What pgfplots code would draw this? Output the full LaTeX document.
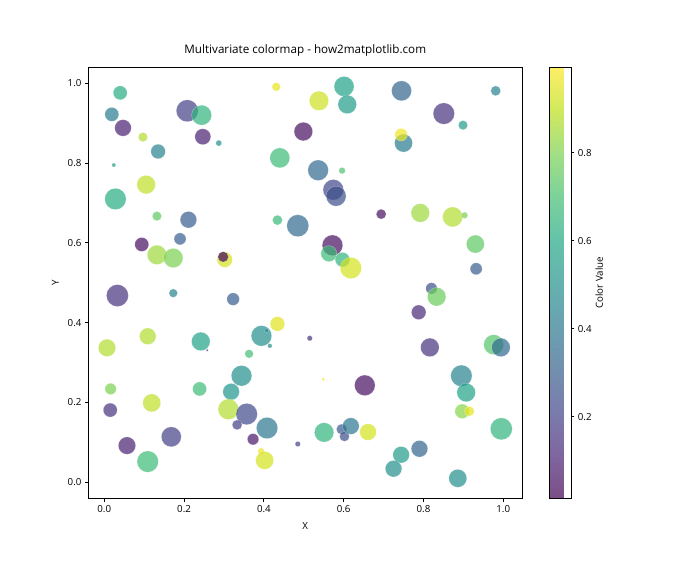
\documentclass[border=0pt]{standalone}
\usepackage{fontspec}
\setmainfont{Open Sans}
\usepackage{pgfplots}
\pgfplotsset{compat=1.18}

% 1 px of the reference = 1.0286pt
\pgfplotstableread{
x y c r
0.040 0.976 0.62 7
0.019 0.922 0.42 7
0.047 0.888 0.10 8.3
0.097 0.865 0.88 4.7
0.135 0.829 0.45 7.3
0.024 0.795 0.55 2
0.105 0.746 0.90 9.3
0.028 0.710 0.62 10.7
0.208 0.931 0.20 11
0.244 0.920 0.65 10
0.247 0.866 0.10 8
0.287 0.850 0.50 3
0.132 0.667 0.75 4.7
0.211 0.658 0.30 8.3
0.431 0.991 0.96 4.3
0.538 0.956 0.92 9.7
0.601 0.992 0.58 10
0.609 0.947 0.55 9.3
0.499 0.879 0.05 9.3
0.440 0.813 0.68 10
0.536 0.782 0.35 10.3
0.596 0.781 0.72 3.3
0.574 0.733 0.22 10.3
0.581 0.717 0.25 10
0.694 0.672 0.05 5
0.745 0.981 0.33 10
0.981 0.981 0.45 5
0.851 0.924 0.15 10.7
0.899 0.895 0.55 4.7
0.750 0.850 0.42 9
0.744 0.871 0.97 6.3
0.792 0.675 0.85 9.3
0.873 0.665 0.88 10
0.903 0.669 0.80 3.3
0.930 0.597 0.75 9
0.932 0.535 0.30 6
0.820 0.486 0.25 5.7
0.833 0.465 0.77 9.3
0.788 0.426 0.12 7.3
0.816 0.338 0.15 9.3
0.976 0.345 0.73 10
0.994 0.338 0.35 9.3
0.094 0.596 0.05 7
0.190 0.610 0.30 6
0.132 0.570 0.85 9.7
0.173 0.562 0.80 9.7
0.302 0.558 0.93 7.7
0.298 0.565 0.02 5.3
0.033 0.468 0.15 11
0.173 0.474 0.45 4.3
0.323 0.459 0.30 6.3
0.109 0.366 0.88 8.3
0.007 0.337 0.88 8.7
0.242 0.353 0.58 9.3
0.258 0.331 0.15 1.3
0.434 0.657 0.67 5
0.485 0.643 0.35 11
0.572 0.594 0.05 10.3
0.563 0.573 0.68 8
0.597 0.558 0.65 7.3
0.618 0.537 0.93 10.7
0.434 0.397 0.95 7.3
0.394 0.367 0.50 10.3
0.407 0.380 0.47 2
0.415 0.342 0.50 2.3
0.515 0.361 0.15 2.7
0.363 0.322 0.70 4.3
0.016 0.234 0.80 5.7
0.015 0.181 0.15 7
0.119 0.199 0.90 9
0.239 0.234 0.68 7
0.057 0.092 0.10 8.7
0.168 0.114 0.20 10
0.109 0.052 0.68 10.7
0.318 0.227 0.52 8.3
0.344 0.267 0.50 10.3
0.311 0.183 0.88 10.3
0.357 0.171 0.23 10.7
0.333 0.144 0.20 5
0.373 0.108 0.07 5.7
0.408 0.136 0.40 10.7
0.393 0.078 0.97 3.3
0.402 0.055 0.93 9
0.549 0.258 0.97 1.7
0.653 0.243 0.05 10.3
0.485 0.096 0.20 2.7
0.551 0.125 0.65 9.7
0.595 0.133 0.28 5.3
0.602 0.115 0.25 5
0.618 0.141 0.40 8.3
0.661 0.126 0.93 8.3
0.895 0.267 0.45 10.7
0.907 0.225 0.58 9.3
0.897 0.178 0.82 7.3
0.915 0.178 0.96 5
0.995 0.134 0.65 11
0.790 0.084 0.33 8.3
0.744 0.069 0.55 8.3
0.725 0.034 0.50 8.3
0.886 0.010 0.50 9
}\pts

\begin{document}
\begin{tikzpicture}
\useasboundingbox (-90.8pt,-63.5pt) rectangle (629.2pt,512.5pt);
\begin{axis}[
  scale only axis,
  width=446.4pt, height=443.3pt,
  xmin=-0.04, xmax=1.0476, ymin=-0.04, ymax=1.04,
  xtick={0,0.2,...,1.0}, ytick={0,0.2,...,1.0},
  /pgf/number format/fixed, /pgf/number format/fixed zerofill,
  /pgf/number format/precision=1, /pgf/number format/assume math mode=true,
  tick align=outside, major tick length=3.5pt,
  xtick pos=left, ytick pos=left,
  tick style={black, line width=0.8pt},
  axis line style={line width=0.8pt},
  ticklabel style={font=\fontsize{10}{12}\selectfont},
  title={Multivariate colormap - how2matplotlib.com},
  title style={at={(axis description cs:0.5,1.0246)}, anchor=center, font=\fontsize{12}{14}\selectfont},
  xlabel={X}, ylabel={Y},
  every axis x label/.style={at={(axis description cs:0.5,-0.065)}, anchor=center, font=\fontsize{10}{12}\selectfont},
  every axis y label/.style={at={(axis description cs:-0.076,0.5)}, anchor=center, rotate=90, font=\fontsize{10}{12}\selectfont},
  colormap/viridis,
  point meta min=0.015, point meta max=0.994,
  colorbar,
  colorbar shift/.style={/tikz/xshift=27.8pt},
  colorbar style={
    width=22pt,
    colormap={fadedviridis}{rgb255=(124,77,135) rgb255=(127,102,158) rgb255=(122,124,171)
      rgb255=(114,143,175) rgb255=(106,161,176) rgb255=(100,178,175) rgb255=(100,194,169)
      rgb255=(124,210,155) rgb255=(162,223,133) rgb255=(209,233,93) rgb255=(254,238,102)},
    ytick={0.2,0.4,0.6,0.8},
    yticklabels={0.2,0.4,0.6,0.8},
    yticklabel pos=right, ytick pos=right,
    tick align=outside, major tick length=3.5pt,
    tick style={black, line width=0.8pt},
    axis line style={line width=0.8pt},
    yticklabel style={font=\fontsize{10}{12}\selectfont},
    ylabel={Color Value},
    every axis y label/.style={at={(axis description cs:2.32,0.5)}, anchor=center, rotate=90, font=\fontsize{10}{12}\selectfont},
  },
]
\addplot[scatter, only marks, mark=*,
  point meta=explicit,
  scatter/use mapped color={draw=white, fill=mapped color},
  visualization depends on={\thisrow{r} \as \mrad},
  scatter/@pre marker code/.append style={/tikz/mark size=\mrad*1.0286pt},
  mark options={fill opacity=0.7, draw opacity=0.5, line width=0.3pt},
] table[x=x, y=y, meta=c] {\pts};
\end{axis}
\end{tikzpicture}
\end{document}
